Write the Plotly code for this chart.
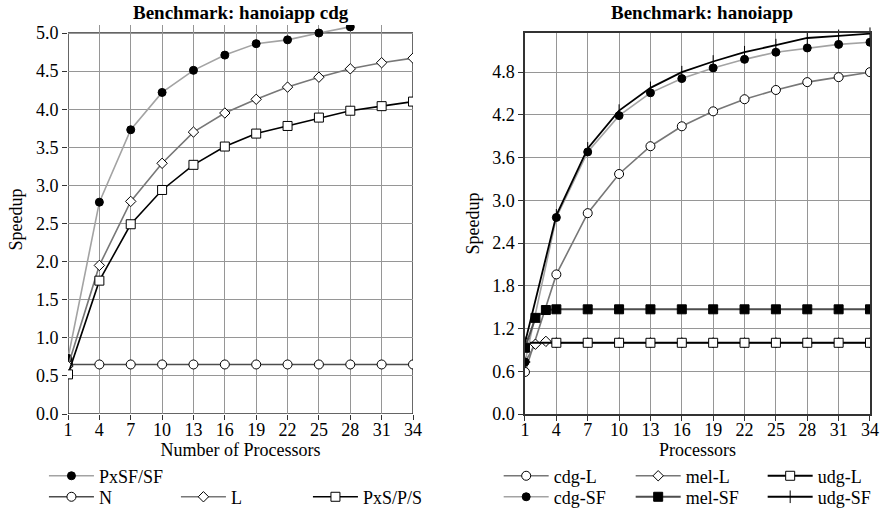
import plotly.graph_objects as go
from plotly.subplots import make_subplots

# ---- data ----
procs = [1, 4, 7, 10, 13, 16, 19, 22, 25, 28, 31, 34]
procs_fine = [1, 2, 3, 4, 7, 10, 13, 16, 19, 22, 25, 28, 31, 34]

# left: hanoiapp cdg
pxsf_sf = [0.73, 2.78, 3.73, 4.22, 4.51, 4.71, 4.86, 4.91, 5.00, 5.08]
n_vals = [0.65] * 12
l_vals = [0.63, 1.95, 2.79, 3.29, 3.70, 3.95, 4.13, 4.29, 4.42, 4.53, 4.61, 4.67]
pxs_p_s = [0.52, 1.75, 2.49, 2.94, 3.27, 3.51, 3.68, 3.78, 3.89, 3.98, 4.04, 4.10]

# right: hanoiapp
cdg_l = [0.59, 1.96, 2.82, 3.37, 3.76, 4.04, 4.25, 4.42, 4.55, 4.66, 4.73, 4.80]
mel_l = [0.73, 0.98, 1.02, 1.00, 1.00, 1.00, 1.00, 1.00, 1.00, 1.00, 1.00, 1.00, 1.00, 1.00]
udg_l = [1.00] * 12
cdg_sf = [0.73, 2.76, 3.68, 4.19, 4.51, 4.71, 4.86, 4.98, 5.08, 5.14, 5.19, 5.22]
mel_sf = [0.93, 1.35, 1.46, 1.47, 1.47, 1.47, 1.47, 1.47, 1.47, 1.47, 1.47, 1.47, 1.47, 1.47]
udg_sf = [1.00, 2.79, 3.73, 4.26, 4.58, 4.80, 4.95, 5.08, 5.18, 5.28, 5.31, 5.34]

left_yticks = [0.0, 0.5, 1.0, 1.5, 2.0, 2.5, 3.0, 3.5, 4.0, 4.5, 5.0]
right_yticks = [0.0, 0.6, 1.2, 1.8, 2.4, 3.0, 3.6, 4.2, 4.8]

FONT = "Liberation Serif"
LIGHT = "#a3a3a3"
MID = "#777777"
DARK = "#4d4d4d"
BORDER = "#333333"

# plot area: bottom at 414px, frame top at 33px; the left panel keeps a little
# headroom above its 5.0 frame so the last PxSF/SF point can sit above it
TOP_M, BOT_M = 25, 94
PLOT_H = 508 - TOP_M - BOT_M
FRAME_FRAC = (414 - 33) / PLOT_H
LEFT_YMAX = 5.0 / FRAME_FRAC

fig = make_subplots(rows=1, cols=2)


def add(x, y, name, color, symbol, mfill, col, legend, size=8, width=1.6):
    fig.add_trace(go.Scatter(
        x=x, y=y, name=name, mode="lines+markers",
        line=dict(color=color, width=width),
        marker=dict(symbol=symbol, size=size, color=mfill,
                    line=dict(color="black", width=1)),
        legend=legend,
    ), row=1, col=col)


# left chart
add(procs, n_vals, "N", DARK, "circle", "white", 1, "legend2", size=9)
add(procs[:len(pxsf_sf)], pxsf_sf, "PxSF/SF", LIGHT, "circle", "black", 1, "legend")
add(procs, l_vals, "L", MID, "diamond", "white", 1, "legend2", size=8)
add(procs, pxs_p_s, "PxS/P/S", "black", "square", "white", 1, "legend2", size=9)

# right chart
add(procs, cdg_l, "cdg-L", MID, "circle", "white", 2, "legend3", size=9)
add(procs_fine, mel_l, "mel-L", MID, "diamond", "white", 2, "legend3", size=8)
add(procs, udg_l, "udg-L", "black", "square", "white", 2, "legend3", size=9, width=2)
add(procs, cdg_sf, "cdg-SF", LIGHT, "circle", "black", 2, "legend4")
add(procs_fine, mel_sf, "mel-SF", DARK, "square", "black", 2, "legend4", size=9, width=2)
fig.add_trace(go.Scatter(
    x=procs, y=udg_sf, name="udg-SF", mode="lines+markers",
    line=dict(color="black", width=1.8),
    marker=dict(symbol="line-ns-open", size=9, line=dict(color="black", width=1)),
    legend="legend4", cliponaxis=False,
), row=1, col=2)

axis_common = dict(
    showgrid=True, gridcolor="#969696", gridwidth=1,
    ticks="outside", ticklen=5, tickcolor=BORDER,
    tickfont=dict(family=FONT, size=18, color="black"),
    zeroline=False,
)
title_font = dict(family=FONT, size=18, color="black")

fig.update_xaxes(range=[1, 34], tickvals=procs, ticklabelstandoff=-6, **axis_common)
fig.update_yaxes(tickformat=".1f", **axis_common)

# left panel: frame drawn as a rectangle at the data limits
fig.update_xaxes(domain=[0, 0.4302], showline=False, row=1, col=1,
                 title=dict(text="Number of Processors", standoff=0, font=title_font))
fig.update_yaxes(range=[0, LEFT_YMAX], tickvals=left_yticks, showline=False, row=1, col=1,
                 title=dict(text="Speedup", standoff=8, font=title_font))
fig.add_shape(type="rect", xref="x", yref="y", x0=procs[0], x1=procs[-1],
              y0=left_yticks[0], y1=left_yticks[-1],
              line=dict(color=BORDER, width=1.5), layer="below")

fig.update_xaxes(domain=[0.5698, 1], showline=True, mirror=True, linecolor=BORDER,
                 linewidth=1.5, row=1, col=2,
                 title=dict(text="Processors", standoff=0, font=title_font))
fig.update_yaxes(domain=[0, FRAME_FRAC], range=[0, 5.35], tickvals=right_yticks,
                 showline=True, mirror=True, linecolor=BORDER, linewidth=1.5, row=1, col=2,
                 title=dict(text="Speedup", standoff=8, font=title_font))

# titles
for xref, xs, text in [("x domain", 0, "Benchmark: hanoiapp cdg"),
                       ("x2 domain", 5, "Benchmark: hanoiapp")]:
    fig.add_annotation(x=0.5, xref=xref, xshift=xs, y=FRAME_FRAC, yref="paper",
                       yanchor="bottom", yshift=8,
                       text=f"<b>{text}</b>", showarrow=False,
                       font=dict(family=FONT, size=19, color="black"))

leg = dict(orientation="h", bgcolor="rgba(0,0,0,0)", font=dict(family=FONT, size=18, color="black"),
           xanchor="left", yanchor="top", tracegroupgap=0, itemwidth=45)
fig.update_layout(
    width=880, height=508,
    margin=dict(l=68, r=10, t=TOP_M, b=BOT_M, autoexpand=False),
    paper_bgcolor="white", plot_bgcolor="white",
    font=dict(family=FONT, color="black"),
    showlegend=True,
    legend=dict(x=-0.030, y=-0.112, **leg),
    legend2=dict(x=-0.030, y=-0.166, entrywidth=72, **leg),
    legend3=dict(x=0.537, y=-0.112, entrywidth=72, **leg),
    legend4=dict(x=0.537, y=-0.166, entrywidth=72, **leg),
)

# drop the page's default body margin so the 880x508 figure fills the window
fig.write_html("out.html", config={"displayModeBar": False},
               post_script="document.body.style.margin='0';")
